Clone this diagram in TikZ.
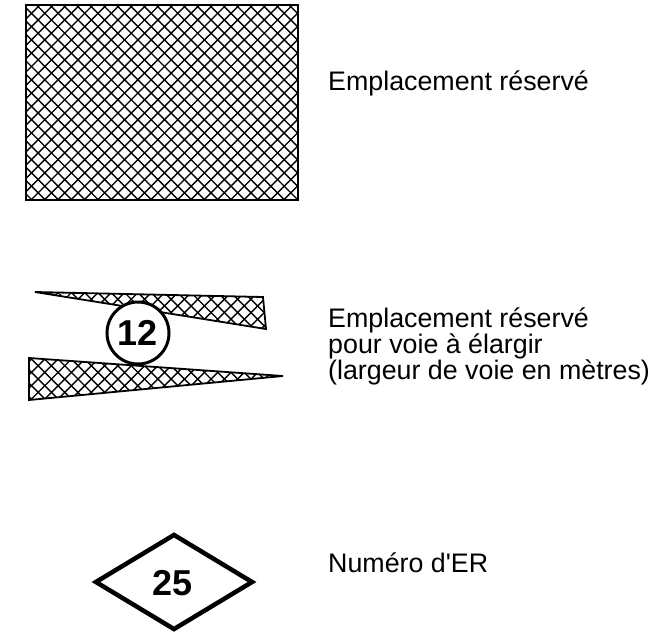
\documentclass[tikz,border=0pt]{standalone}
\usepackage{fontspec}
\setmainfont{Liberation Sans}[Ligatures=TeXOff]
\usetikzlibrary{shapes.geometric}
\newcommand\myhatchlines{%
  \foreach \c in {-700,-686.7,...,1400} {%
    \draw[hatchline] (\c-700,-700) -- (\c+700,700);
    \draw[hatchline] (\c+700,-700) -- (\c-700,700);
  }}
\tikzset{
  hatchline/.style={line width=1.4pt, black},
  outline/.style={draw=black, line width=1.8pt, line join=miter},
  legend/.style={anchor=base west, inner sep=0pt, font=\fontsize{26.8}{26}\selectfont, align=left},
  bignum/.style={font=\fontsize{36}{36}\selectfont\bfseries, inner sep=0pt}
}
\begin{document}
\begin{tikzpicture}[x=1pt,y=-1pt]
\useasboundingbox (0,0) rectangle (667,641);
% hatched rectangle
\begin{scope}
  \clip (26,5) rectangle (298,200);
  \myhatchlines
\end{scope}
\node[outline, rectangle, minimum width=272pt, minimum height=195pt, inner sep=0pt] (rect) at (162,102.5) {};
% upper wedge
\coordinate (u1) at (35,292);
\coordinate (u2) at (263,297);
\coordinate (u3) at (266,329);
\begin{scope}
  \clip (u1) -- (u2) -- (u3) -- cycle;
  \myhatchlines
\end{scope}
\draw[outline] (u1) -- (u2) -- (u3) -- cycle;
% lower wedge
\coordinate (l1) at (29,358);
\coordinate (l2) at (283,376);
\coordinate (l3) at (29,400);
\begin{scope}
  \clip (l1) -- (l2) -- (l3) -- cycle;
  \myhatchlines
\end{scope}
\draw[outline] (l1) -- (l2) -- (l3) -- cycle;
% circle
\node[circle, draw, fill=white, line width=3pt, minimum size=62pt, inner sep=0pt, bignum] (c12) at (138,333) {12};
% diamond
\node[diamond, draw, fill=white, line width=4.5pt, minimum width=158pt, minimum height=96pt, aspect=1.64, inner sep=0pt] (d25) at (174,582) {};
\node[bignum] (t25) at (172.5,583.5) {25};
% legends
\node[legend] (l1t) at (328,90) {Emplacement réservé};
\node[legend] (l2t) at (328,379) {Emplacement réservé\\pour voie à élargir\\(largeur de voie en mètres)};
\node[legend] (l3t) at (328,572.5) {Numéro d'ER};
\end{tikzpicture}
\end{document}
